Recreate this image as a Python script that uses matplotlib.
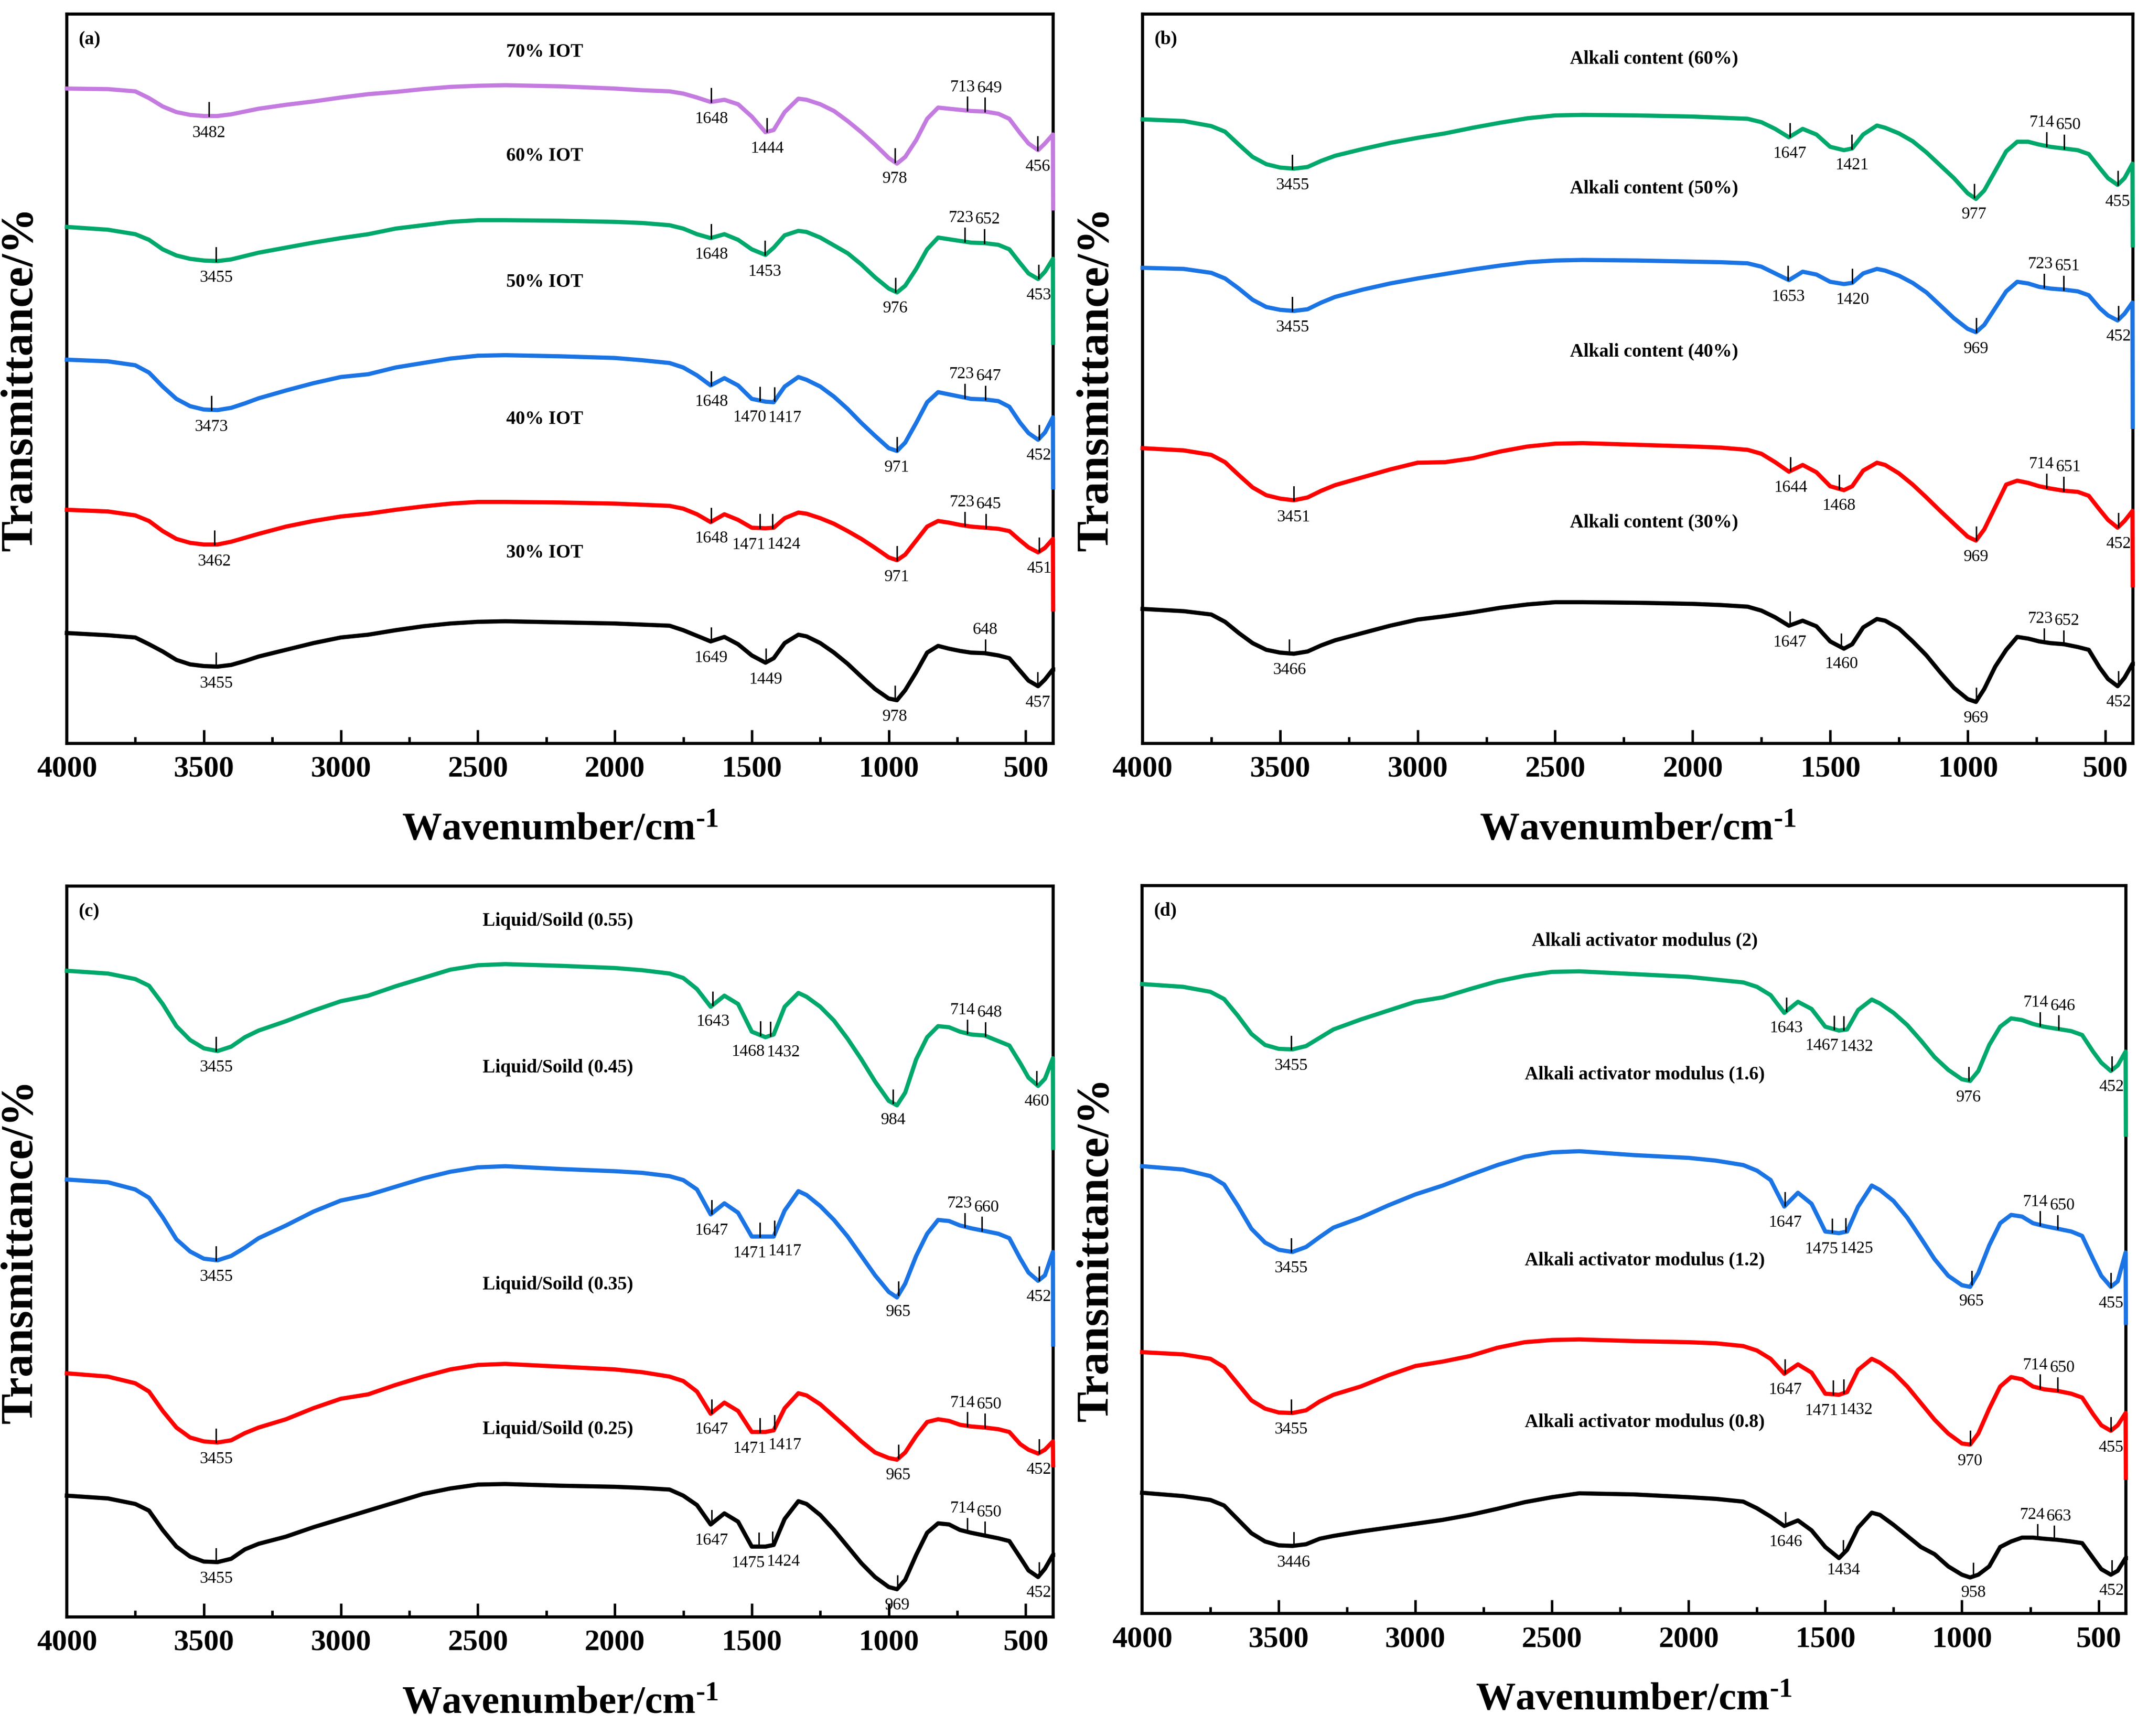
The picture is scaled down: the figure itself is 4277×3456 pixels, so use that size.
import matplotlib
matplotlib.use("Agg")
import matplotlib.pyplot as plt
import numpy as np
from matplotlib.ticker import MultipleLocator

plt.rcParams['font.family'] = ['Liberation Serif', 'DejaVu Serif']
plt.rcParams['mathtext.fontset'] = 'custom'
plt.rcParams['mathtext.rm'] = 'Liberation Serif:bold'
plt.rcParams['mathtext.bf'] = 'Liberation Serif:bold'
plt.rcParams['mathtext.default'] = 'bf'

# ---- data (arbitrary stacked transmittance units) ----
wavenumber = [4000, 3850, 3750, 3700, 3650, 3600, 3550, 3500, 3450, 3400, 3350, 3300,
              3200, 3100, 3000, 2900, 2800, 2700, 2600, 2500, 2400, 2200, 2000, 1900,
              1800, 1750, 1700, 1650, 1600, 1550, 1500, 1450, 1420, 1380, 1330, 1300,
              1250, 1200, 1150, 1100, 1050, 1000, 970, 940, 900, 860, 820, 780, 740,
              700, 650, 600, 560, 520, 490, 455, 430, 401, 400]

# (a) IOT content
a_70 = [116.9, 116.8, 116.4, 115.2, 113.7, 112.7, 112.2, 112.0, 112.0, 112.3, 112.8, 113.3,
        114.0, 114.6, 115.3, 115.9, 116.3, 116.8, 117.2, 117.4, 117.5, 117.3, 116.9, 116.6,
        116.4, 116.0, 115.3, 114.5, 114.9, 114.1, 111.9, 109.1, 109.5, 112.7, 115.1, 114.9,
        114.1, 112.9, 111.1, 109.1, 106.9, 104.5, 103.5, 104.7, 107.7, 111.5, 113.5, 113.3, 113.1,
        112.9, 112.8, 112.4, 111.5, 108.9, 107.1, 105.9, 107.1, 108.7, 95.5]
a_60 = [92.2, 91.7, 90.9, 89.9, 88.2, 87.1, 86.5, 86.2, 86.1, 86.4, 87.0, 87.6,
        88.5, 89.4, 90.2, 90.9, 91.9, 92.5, 93.1, 93.4, 93.4, 93.3, 93.1, 92.9,
        92.5, 91.9, 90.9, 90.2, 90.9, 89.9, 88.2, 87.2, 88.5, 90.7, 91.5, 91.3,
        90.3, 88.9, 87.5, 85.5, 83.2, 81.2, 80.5, 81.7, 84.7, 88.2, 90.3, 90.0, 89.7,
        89.4, 89.3, 89.0, 88.2, 85.7, 83.9, 82.9, 84.2, 86.5, 71.5]
a_50 = [68.5, 68.2, 67.5, 66.2, 63.7, 61.5, 60.2, 59.6, 59.5, 59.9, 60.7, 61.6,
        63.0, 64.3, 65.4, 65.9, 67.1, 67.9, 68.7, 69.2, 69.3, 69.1, 68.8, 68.4,
        67.9, 67.1, 65.7, 63.9, 65.2, 63.9, 61.5, 61.0, 60.9, 63.7, 65.4, 64.9,
        63.7, 61.9, 59.7, 57.2, 54.9, 52.7, 52.2, 53.7, 57.2, 60.9, 62.7, 62.3, 61.9,
        61.5, 61.4, 61.1, 60.1, 57.2, 55.4, 54.2, 55.5, 58.2, 45.7]
a_40 = [41.7, 41.4, 40.7, 39.7, 37.9, 36.5, 35.8, 35.5, 35.5, 36.0, 36.7, 37.4,
        38.7, 39.7, 40.5, 41.0, 41.7, 42.3, 42.8, 43.1, 43.1, 43.0, 42.8, 42.6,
        42.4, 41.9, 40.9, 39.5, 40.9, 39.9, 38.5, 38.4, 38.5, 40.2, 41.2, 41.0,
        40.2, 39.2, 37.9, 36.5, 34.9, 33.2, 32.7, 33.7, 36.2, 38.7, 39.7, 39.4, 39.0,
        38.7, 38.5, 38.3, 37.9, 36.2, 35.0, 34.1, 34.9, 36.5, 23.9]
a_30 = [19.7, 19.3, 18.9, 17.7, 16.4, 14.9, 14.1, 13.8, 13.7, 14.0, 14.7, 15.5,
        16.7, 17.9, 18.9, 19.4, 20.2, 20.9, 21.4, 21.7, 21.8, 21.6, 21.4, 21.2,
        21.0, 20.2, 19.2, 18.2, 19.0, 17.7, 15.7, 14.4, 15.2, 17.9, 19.4, 19.1,
        17.9, 16.2, 14.2, 11.9, 9.7, 8.0, 7.7, 9.5, 12.7, 16.2, 17.4, 16.9, 16.5,
        16.2, 16.1, 15.7, 15.2, 12.9, 11.2, 10.2, 11.4, 13.2, 13.2]

# (b) alkali content
b_60 = [111.4, 111.1, 110.2, 109.2, 106.9, 104.7, 103.4, 102.8, 102.6, 102.9, 104.0, 104.9,
        106.1, 107.2, 108.1, 108.9, 109.9, 110.8, 111.6, 112.1, 112.2, 112.1, 111.9, 111.7,
        111.5, 110.9, 109.7, 108.2, 109.7, 108.7, 106.5, 105.9, 106.2, 108.7, 110.3, 109.9,
        108.9, 107.5, 105.5, 103.2, 100.9, 98.2, 97.2, 98.7, 102.2, 105.7, 107.4, 107.4, 106.9,
        106.5, 106.2, 105.9, 105.2, 102.7, 100.9, 99.7, 100.9, 103.5, 88.9]
b_50 = [84.9, 84.7, 84.0, 83.0, 81.2, 79.2, 77.9, 77.4, 77.2, 77.5, 78.7, 79.7,
        81.0, 82.1, 83.0, 83.8, 84.6, 85.3, 85.9, 86.2, 86.3, 86.2, 86.0, 85.9,
        85.7, 85.1, 83.9, 82.7, 84.2, 83.7, 82.4, 82.0, 82.2, 83.9, 84.7, 84.4,
        83.5, 82.2, 80.5, 78.2, 75.9, 74.0, 73.4, 74.7, 77.7, 80.7, 82.4, 82.1, 81.5,
        81.2, 81.0, 80.7, 80.0, 77.7, 76.4, 75.5, 76.7, 78.7, 56.5]
b_40 = [52.7, 52.3, 51.5, 50.2, 47.9, 45.7, 44.3, 43.7, 43.4, 43.9, 45.1, 46.1,
        47.5, 48.9, 50.1, 50.2, 50.9, 52.1, 53.0, 53.5, 53.6, 53.3, 53.0, 52.8,
        52.4, 51.7, 50.2, 48.5, 49.7, 48.4, 45.9, 45.2, 45.9, 48.7, 50.1, 49.7,
        48.2, 46.2, 43.9, 41.5, 39.2, 36.9, 36.2, 38.2, 42.2, 46.2, 46.9, 46.5, 45.9,
        45.5, 45.1, 44.9, 44.2, 41.7, 39.9, 38.5, 39.7, 41.5, 28.2]
b_30 = [24.0, 23.6, 23.0, 21.7, 19.7, 17.9, 16.7, 16.2, 16.0, 16.4, 17.5, 18.4,
        19.7, 21.0, 22.1, 22.7, 23.4, 24.2, 24.8, 25.2, 25.2, 25.1, 24.9, 24.7,
        24.4, 23.7, 22.5, 21.0, 21.9, 20.9, 18.2, 16.9, 17.7, 20.7, 22.2, 21.9,
        20.5, 18.2, 15.7, 12.7, 9.9, 7.9, 7.4, 9.7, 13.7, 16.7, 19.0, 18.7, 18.2,
        17.9, 17.7, 17.2, 16.7, 13.5, 11.5, 10.2, 11.7, 14.2, 14.2]

# (c) liquid/solid ratio
c_055 = [116.7, 116.2, 115.2, 114.0, 110.7, 106.7, 104.2, 102.7, 102.2, 103.0, 104.7, 105.9,
         107.6, 109.5, 111.2, 112.2, 113.9, 115.4, 116.9, 117.7, 117.9, 117.6, 117.2, 116.8,
         116.2, 115.4, 113.4, 110.2, 112.2, 110.7, 105.7, 104.7, 105.2, 110.2, 112.7, 112.0,
         110.2, 107.7, 104.4, 100.7, 96.7, 93.2, 92.4, 94.7, 100.7, 104.7, 106.7, 106.5, 105.7,
         105.2, 105.0, 104.0, 103.2, 100.0, 97.4, 95.9, 97.2, 100.9, 84.7]
c_045 = [79.0, 78.5, 77.2, 75.7, 72.2, 68.2, 66.0, 64.7, 64.4, 65.2, 66.7, 68.4,
         70.7, 73.2, 75.2, 76.2, 77.7, 79.2, 80.4, 81.2, 81.4, 80.9, 80.5, 80.2,
         79.6, 78.9, 77.2, 72.7, 74.7, 73.0, 68.7, 68.7, 68.7, 73.4, 76.9, 76.2,
         74.2, 71.7, 68.7, 65.2, 61.7, 58.7, 57.7, 60.2, 65.2, 69.2, 71.7, 71.5, 70.7,
         70.2, 69.7, 69.2, 68.4, 64.7, 62.2, 60.7, 61.7, 65.9, 49.2]
c_035 = [44.0, 43.4, 42.2, 40.7, 37.2, 34.2, 32.4, 31.7, 31.5, 31.9, 33.2, 34.2,
         35.7, 37.7, 39.4, 40.2, 41.9, 43.4, 44.7, 45.5, 45.7, 45.2, 44.7, 44.2,
         43.4, 42.6, 40.7, 36.7, 38.7, 37.2, 33.4, 33.4, 33.7, 37.7, 40.4, 40.0,
         38.4, 36.2, 34.0, 31.7, 29.7, 28.7, 28.4, 29.7, 32.7, 35.2, 35.7, 35.4, 34.7,
         34.4, 34.2, 33.9, 33.4, 31.2, 30.2, 29.5, 30.2, 31.7, 27.4]
c_025 = [21.9, 21.4, 20.4, 19.2, 15.7, 12.7, 10.9, 10.0, 9.9, 10.5, 12.2, 13.2,
         14.5, 16.2, 17.7, 19.2, 20.7, 22.2, 23.2, 23.9, 24.0, 23.7, 23.5, 23.3,
         23.0, 21.9, 20.2, 16.7, 18.7, 17.2, 12.7, 12.7, 13.0, 17.7, 20.9, 20.4,
         18.4, 15.7, 12.7, 9.7, 7.2, 5.4, 5.0, 6.7, 11.2, 15.2, 16.9, 16.7, 15.7,
         15.2, 14.7, 14.2, 13.7, 10.7, 8.4, 7.2, 8.7, 11.2, 11.2]

# (d) alkali activator modulus
d_20 = [113.7, 113.2, 112.3, 111.0, 108.0, 104.7, 102.7, 102.0, 101.9, 102.5, 104.0, 105.5,
        107.3, 108.9, 110.5, 111.3, 112.8, 114.2, 115.2, 115.9, 116.0, 115.5, 115.0, 114.5,
        114.0, 113.2, 111.7, 108.5, 110.5, 109.2, 106.0, 105.3, 105.5, 109.0, 110.9, 110.2,
        108.5, 106.3, 103.5, 100.5, 98.2, 96.5, 96.2, 98.0, 102.7, 106.0, 107.5, 107.2, 106.5,
        106.0, 105.6, 105.2, 104.5, 101.5, 99.5, 98.0, 99.0, 101.5, 86.5]
d_16 = [80.8, 80.2, 79.0, 77.5, 73.7, 69.5, 67.0, 65.7, 65.3, 66.2, 68.0, 69.7,
        71.5, 73.7, 75.7, 77.3, 79.2, 81.0, 82.5, 83.3, 83.5, 82.8, 82.3, 81.8,
        81.0, 80.0, 78.3, 73.5, 76.0, 74.0, 69.0, 68.7, 69.0, 73.5, 77.3, 76.5,
        74.5, 71.5, 67.8, 64.0, 61.0, 59.3, 59.0, 61.5, 66.5, 70.5, 72.0, 71.7, 70.5,
        70.0, 69.5, 69.0, 68.2, 64.0, 61.0, 59.0, 60.0, 65.2, 52.5]
d_12 = [47.2, 46.8, 46.0, 44.5, 41.5, 38.5, 37.0, 36.3, 36.2, 36.7, 38.3, 39.5,
        41.0, 43.0, 44.7, 45.5, 46.5, 48.0, 49.0, 49.4, 49.5, 49.2, 49.0, 48.8,
        48.3, 47.5, 46.0, 43.3, 45.0, 43.5, 39.7, 39.5, 40.0, 44.0, 46.0, 45.3,
        43.5, 41.0, 38.0, 35.0, 32.5, 30.7, 30.5, 32.5, 37.0, 41.0, 42.7, 42.3, 41.0,
        40.5, 40.2, 39.7, 39.0, 36.0, 34.0, 33.0, 34.0, 36.2, 24.5]
d_08 = [21.8, 21.2, 20.5, 19.5, 17.0, 14.5, 13.0, 12.3, 12.2, 12.5, 13.5, 14.0,
        14.8, 15.5, 16.2, 16.9, 17.8, 18.9, 20.1, 21.0, 21.7, 21.5, 21.0, 20.7,
        20.2, 19.0, 17.5, 15.8, 16.8, 15.0, 12.0, 10.0, 11.5, 15.5, 18.2, 17.8,
        16.0, 14.0, 12.0, 10.7, 8.5, 7.0, 6.5, 7.0, 8.5, 12.0, 13.0, 13.7, 13.7,
        13.5, 13.3, 13.0, 12.7, 10.0, 8.0, 7.0, 7.7, 10.0, 10.0]

# peak labels (wavenumbers)
a_70_peaks = [3482, 1648, 1444, 978, 713, 649, 456]
a_60_peaks = [3455, 1648, 1453, 976, 723, 652, 453]
a_50_peaks = [3473, 1648, 1470, 1417, 971, 723, 647, 452]
a_40_peaks = [3462, 1648, 1471, 1424, 971, 723, 645, 451]
a_30_peaks = [3455, 1649, 1449, 978, 648, 457]
b_60_peaks = [3455, 1647, 1421, 977, 714, 650, 455]
b_50_peaks = [3455, 1653, 1420, 969, 723, 651, 452]
b_40_peaks = [3451, 1644, 1468, 969, 714, 651, 452]
b_30_peaks = [3466, 1647, 1460, 969, 723, 652, 452]
c_055_peaks = [3455, 1643, 1468, 1432, 984, 714, 648, 460]
c_045_peaks = [3455, 1647, 1471, 1417, 965, 723, 660, 452]
c_035_peaks = [3455, 1647, 1471, 1417, 965, 714, 650, 452]
c_025_peaks = [3455, 1647, 1475, 1424, 969, 714, 650, 452]
d_20_peaks = [3455, 1643, 1467, 1432, 976, 714, 646, 452]
d_16_peaks = [3455, 1647, 1475, 1425, 965, 714, 650, 455]
d_12_peaks = [3455, 1647, 1471, 1432, 970, 714, 650, 455]
d_08_peaks = [3446, 1646, 1434, 958, 724, 663, 452]

a_names = ['70% IOT', '60% IOT', '50% IOT', '40% IOT', '30% IOT']
b_names = ['Alkali content (60%)', 'Alkali content (50%)', 'Alkali content (40%)', 'Alkali content (30%)']
c_names = ['Liquid/Soild (0.55)', 'Liquid/Soild (0.45)', 'Liquid/Soild (0.35)', 'Liquid/Soild (0.25)']
d_names = ['Alkali activator modulus (2)', 'Alkali activator modulus (1.6)',
           'Alkali activator modulus (1.2)', 'Alkali activator modulus (0.8)']

# ---- styling / layout ----
purple = '#C47BE0'
green = '#00A86B'
blue = '#1B74E4'
red = '#FF0000'
black = '#000000'

panels = [
    dict(tag='(a)', rect=[0.0311, 0.5718, 0.4592, 0.4201], ylim=130.2,
         curves=[a_70, a_60, a_50, a_40, a_30],
         peaks=[a_70_peaks, a_60_peaks, a_50_peaks, a_40_peaks, a_30_peaks],
         names=a_names, colors=[purple, green, blue, red, black],
         name_x=2255, name_y=[123.4, 104.9, 82.4, 57.9, 34.0]),
    dict(tag='(b)', rect=[0.5319, 0.5718, 0.4610, 0.4201], ylim=130.2,
         curves=[b_60, b_50, b_40, b_30],
         peaks=[b_60_peaks, b_50_peaks, b_40_peaks, b_30_peaks],
         names=b_names, colors=[green, blue, red, black],
         name_x=2140, name_y=[122.2, 99.0, 69.9, 39.4]),
    dict(tag='(c)', rect=[0.0311, 0.0686, 0.4592, 0.4210], ylim=132.0,
         curves=[c_055, c_045, c_035, c_025],
         peaks=[c_055_peaks, c_045_peaks, c_035_peaks, c_025_peaks],
         names=c_names, colors=[green, blue, red, black],
         name_x=2208, name_y=[125.7, 99.2, 60.0, 33.9]),
    dict(tag='(d)', rect=[0.5317, 0.0706, 0.4580, 0.4193], ylim=131.5,
         curves=[d_20, d_16, d_12, d_08],
         peaks=[d_20_peaks, d_16_peaks, d_12_peaks, d_08_peaks],
         names=d_names, colors=[green, blue, red, black],
         name_x=2160, name_y=[121.5, 97.3, 63.8, 34.5]),
]


def spread(xs, gap=8):
    # push neighbouring labels apart so they don't overlap (xs sorted descending)
    pos = [float(x) for x in xs]
    widths = [len(str(x)) * 30 for x in xs]
    for i in range(1, len(pos)):
        need = (widths[i - 1] + widths[i]) / 2 + gap
        d = pos[i - 1] - pos[i]
        if d < need:
            s = (need - d) / 2
            pos[i - 1] += s
            pos[i] -= s
    return pos


fig = plt.figure(figsize=(4277 / 300, 3456 / 300), dpi=300)
x = np.array(wavenumber)

for p in panels:
    ax = fig.add_axes(p['rect'])
    for y, pk, col in zip(p['curves'], p['peaks'], p['colors']):
        y = np.array(y)
        ax.plot(x, y, color=col, lw=2.0, zorder=3, clip_on=False,
                solid_joinstyle='round')
        xr, yr = x[::-1], y[::-1]
        above = [w for w in pk if 600 < w < 800]
        below = [w for w in pk if not 600 < w < 800]
        for grp, sign in ((below, -1), (above, 1)):
            grp = sorted(grp, reverse=True)
            lx = spread(grp)
            for w, xx in zip(grp, lx):
                yc = np.interp(w, xr[1:], yr[1:])
                ax.plot([w, w], [yc, yc + 2.4], color='black', lw=0.7, zorder=4)
                ty = yc - 3.0 if sign < 0 else yc + 4.2
                ax.text(xx, ty, str(w), fontsize=8, ha='center', va='center')
    for name, ny in zip(p['names'], p['name_y']):
        ax.text(p['name_x'], ny, name, fontsize=9, fontweight='bold', ha='center', va='center')
    ax.text(0.012, 0.965, p['tag'], transform=ax.transAxes, fontsize=9,
            fontweight='bold', ha='left', va='center')

    ax.set_xlim(4000, 400)
    ax.set_ylim(0, p['ylim'])
    ax.set_yticks([])
    ax.xaxis.set_major_locator(MultipleLocator(500))
    ax.xaxis.set_minor_locator(MultipleLocator(250))
    ax.tick_params(axis='x', which='major', direction='in', length=6.5, width=1.2,
                   pad=6, labelsize=14.5)
    ax.tick_params(axis='x', which='minor', direction='in', length=3.2, width=1.2)
    for lab in ax.get_xticklabels():
        lab.set_fontweight('bold')
    for sp in ax.spines.values():
        sp.set_linewidth(1.5)
    ax.set_xlabel(r'Wavenumber/cm$^{\text{-1}}$', fontsize=19, fontweight='bold', labelpad=14)
    ax.set_ylabel('Transmittance/%', fontsize=22, fontweight='bold', labelpad=12)

fig.savefig('out.png', dpi=300, facecolor='white')
